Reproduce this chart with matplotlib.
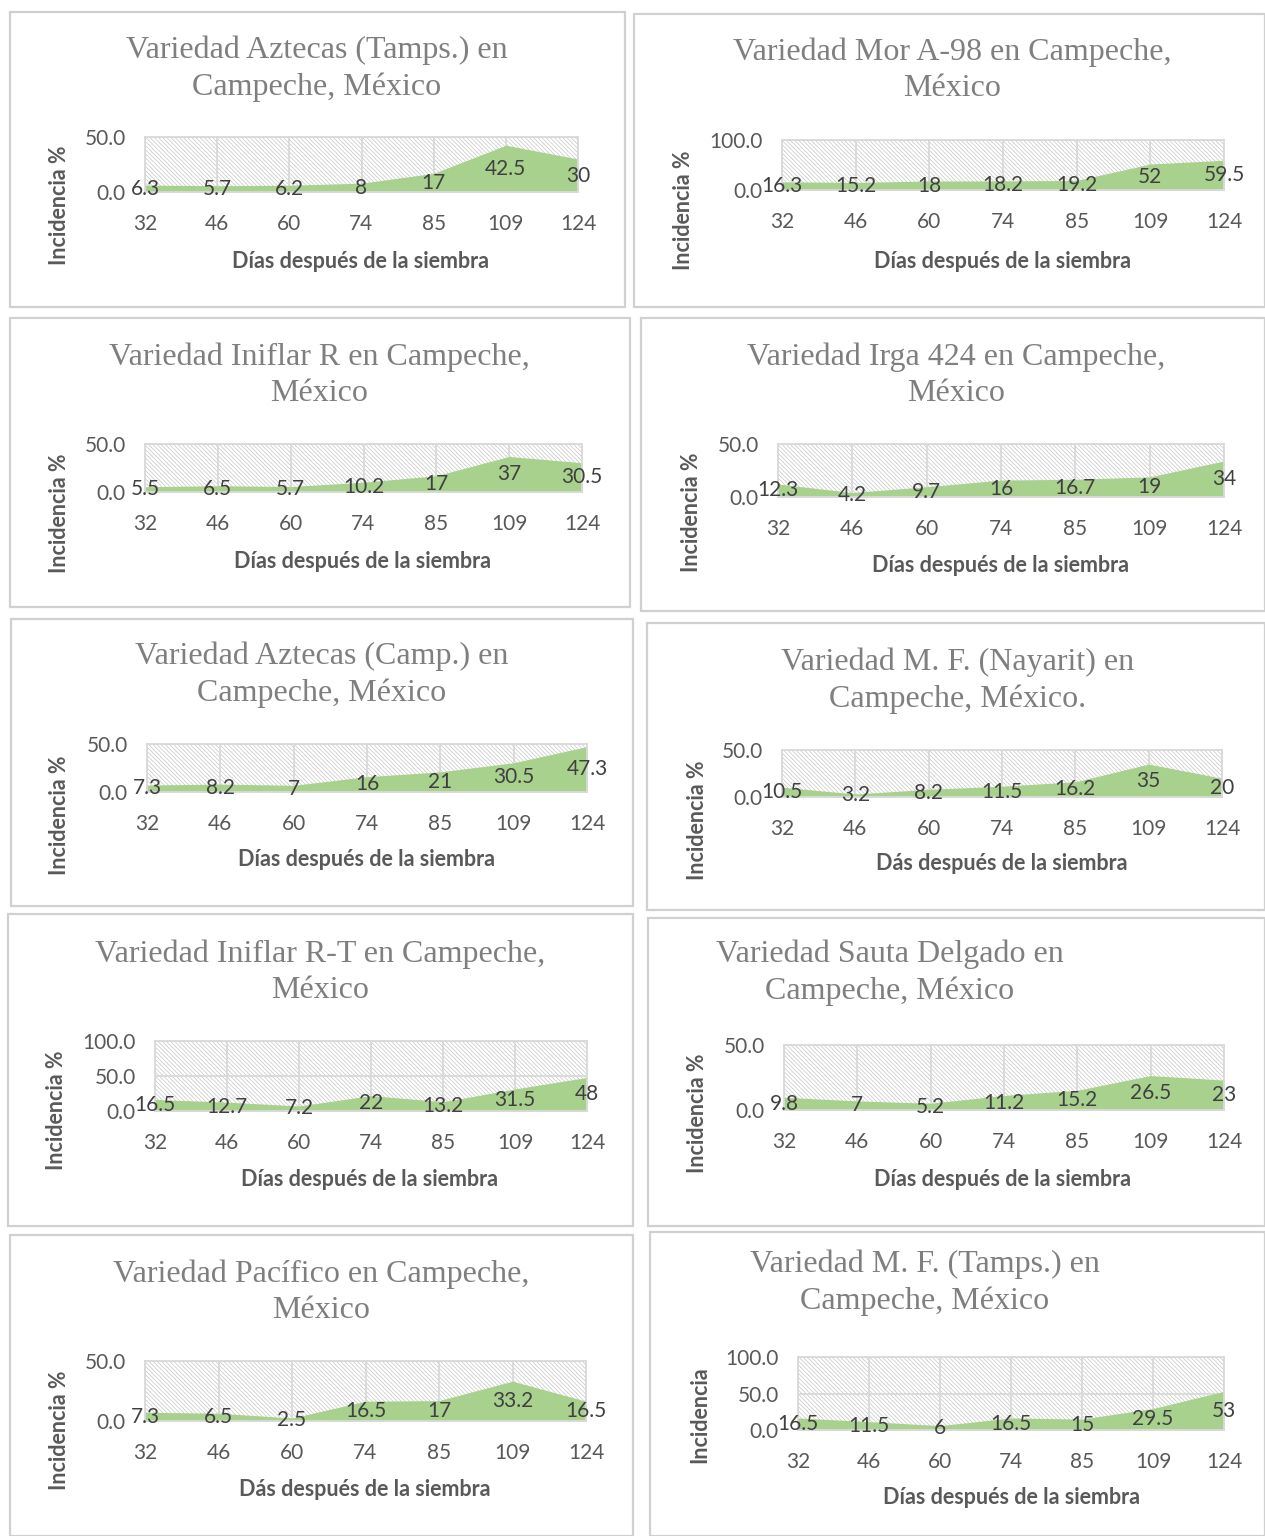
import matplotlib
matplotlib.use("Agg")
import matplotlib.pyplot as plt
from matplotlib.patches import Rectangle

W, H = 1265, 1536

days = ["32", "46", "60", "74", "85", "109", "124"]

aztecas_tamps = [6.3, 5.7, 6.2, 8, 17, 42.5, 30]
mor_a98 = [16.3, 15.2, 18, 18.2, 19.2, 52, 59.5]
iniflar_r = [5.5, 6.5, 5.7, 10.2, 17, 37, 30.5]
irga_424 = [12.3, 4.2, 9.7, 16, 16.7, 19, 34]
aztecas_camp = [7.3, 8.2, 7, 16, 21, 30.5, 47.3]
mf_nayarit = [10.5, 3.2, 8.2, 11.5, 16.2, 35, 20]
iniflar_rt = [16.5, 12.7, 7.2, 22, 13.2, 31.5, 48]
sauta_delgado = [9.8, 7, 5.2, 11.2, 15.2, 26.5, 23]
pacifico = [7.3, 6.5, 2.5, 16.5, 17, 33.2, 16.5]
mf_tamps = [16.5, 11.5, 6, 16.5, 15, 29.5, 53]

titles = [
    "Variedad Aztecas (Tamps.) en\nCampeche, México",
    "Variedad Mor A-98 en Campeche,\nMéxico",
    "Variedad Iniflar R en Campeche,\nMéxico",
    "Variedad Irga 424 en Campeche,\nMéxico",
    "Variedad Aztecas (Camp.) en\nCampeche, México",
    "Variedad M. F. (Nayarit) en\nCampeche, México.",
    "Variedad Iniflar R-T en Campeche,\nMéxico",
    "Variedad Sauta Delgado en\nCampeche, México",
    "Variedad Pacífico en Campeche,\nMéxico",
    "Variedad M. F. (Tamps.) en\nCampeche, México",
]
series = [aztecas_tamps, mor_a98, iniflar_r, irga_424, aztecas_camp,
          mf_nayarit, iniflar_rt, sauta_delgado, pacifico, mf_tamps]
y_ticks = [[0, 50], [0, 100], [0, 50], [0, 50], [0, 50],
           [0, 50], [0, 50, 100], [0, 50], [0, 50], [0, 50, 100]]
x_titles = ["Días después de la siembra"] * 10
x_titles[5] = "Dás después de la siembra"
x_titles[8] = "Dás después de la siembra"
y_titles = ["Incidencia %"] * 9 + ["Incidencia"]

# layout in pixels: panel box, plot box, title centre, y-title pos, x-title pos
layout = [
    dict(box=(10, 12, 625, 307), plot=(145, 137, 578, 192), tc=(317, 69), yl=(60, 205), xl=(360, 261)),
    dict(box=(634, 14, 1265, 307), plot=(782, 140, 1224, 190), tc=(952, 70), yl=(683, 210), xl=(1002, 261)),
    dict(box=(10, 318, 630, 607), plot=(145, 444, 582, 492), tc=(319, 375), yl=(60, 513), xl=(363, 561)),
    dict(box=(641, 318, 1265, 611), plot=(778, 444, 1224, 497), tc=(956, 375), yl=(692, 512), xl=(1000, 565)),
    dict(box=(11, 619, 633, 906), plot=(147, 744, 587, 792), tc=(322, 675), yl=(60, 815), xl=(366, 859)),
    dict(box=(647, 623, 1265, 910), plot=(782, 750, 1222, 797), tc=(958, 681), yl=(697, 820), xl=(1002, 863)),
    dict(box=(8, 914, 633, 1226), plot=(155, 1041, 587, 1111), tc=(320, 972), yl=(57, 1110), xl=(370, 1179)),
    dict(box=(648, 918, 1265, 1226), plot=(784, 1045, 1224, 1110), tc=(890, 973), yl=(698, 1113), xl=(1003, 1179)),
    dict(box=(10, 1235, 633, 1536), plot=(145, 1361, 586, 1421), tc=(321, 1292), yl=(60, 1430), xl=(365, 1489)),
    dict(box=(650, 1232, 1265, 1536), plot=(798, 1357, 1224, 1430), tc=(925, 1283), yl=(700, 1415), xl=(1011, 1497)),
]

GREEN = "#A9D18E"
GRID = "#d9d9d9"
TEXT = "#595959"
LABEL = "#404040"

plt.rcParams["hatch.linewidth"] = 0.5

fig = plt.figure(figsize=(W / 100, H / 100), dpi=100)
fig.patch.set_facecolor("white")


def fx(x):
    return x / W


def fy(y):
    return 1 - y / H


for i, (vals, lay) in enumerate(zip(series, layout)):
    bx0, by0, bx1, by1 = lay["box"]
    fig.patches.append(Rectangle((fx(bx0), fy(by1)), fx(bx1 - bx0), (by1 - by0) / H,
                                 transform=fig.transFigure, facecolor="none",
                                 edgecolor="#d0d0d0", linewidth=1.6))

    px0, py0, px1, py1 = lay["plot"]
    ax = fig.add_axes([fx(px0), fy(py1), fx(px1 - px0), (py1 - py0) / H])
    ymax = y_ticks[i][-1]
    x = list(range(len(days)))
    ax.add_patch(Rectangle((0, 0), 1, 1, transform=ax.transAxes, facecolor="white",
                           edgecolor="#c6c6c6", hatch="\\" * 8, linewidth=0, zorder=0.2))
    ax.fill_between(x, 0, vals, color=GREEN, linewidth=0, zorder=2)
    for xi, v in zip(x, vals):
        ax.text(xi, v / 2, f"{v:g}", ha="center", va="center", fontsize=15,
                color=LABEL, family="Lato", zorder=3, clip_on=False)
    ax.set_xlim(0, len(days) - 1)
    ax.set_ylim(0, ymax)
    ax.set_xticks(x)
    ax.set_xticklabels(days)
    ax.set_yticks(y_ticks[i])
    ax.set_yticklabels([f"{t:.1f}" for t in y_ticks[i]])
    ax.set_axisbelow(True)
    ax.grid(True, color=GRID, linewidth=1.3)
    ax.tick_params(length=0, labelsize=15, labelcolor=TEXT)
    ax.tick_params(axis="y", pad=14)
    ax.tick_params(axis="x", pad=16)
    for lab in ax.get_xticklabels() + ax.get_yticklabels():
        lab.set_family("Lato")
    for s in ax.spines.values():
        s.set_color(GRID)
        s.set_linewidth(1.3)

    tx, ty = lay["tc"]
    fig.text(fx(tx), fy(ty), titles[i], ha="center", va="center", fontsize=23,
             family="Liberation Serif", color="#7f7f7f", linespacing=1.32)
    xx, xy = lay["xl"]
    fig.text(fx(xx), fy(xy), x_titles[i], ha="center", va="center", fontsize=15.5,
             family="Lato", fontweight="bold", color=TEXT)
    yx, yy = lay["yl"]
    fig.text(fx(yx), fy(yy), y_titles[i], ha="center", va="center", rotation=90,
             fontsize=15.5, family="Lato", fontweight="bold", color=TEXT)

fig.savefig("out.png", dpi=100, facecolor="white")
